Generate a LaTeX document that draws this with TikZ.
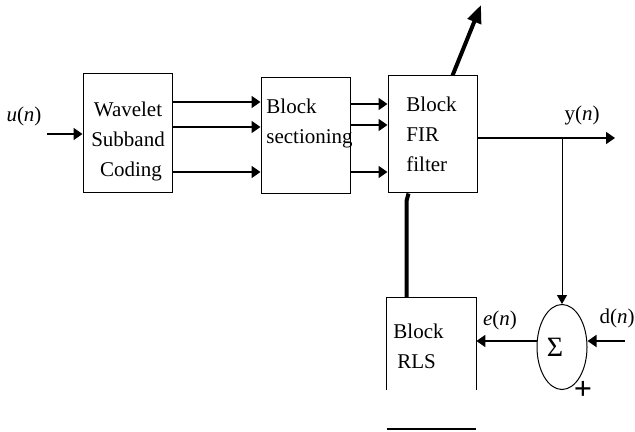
\documentclass[tikz,border=0pt]{standalone}
\usepackage{fontspec}
\setmainfont{Liberation Serif}
\usetikzlibrary{arrows.meta,calc,positioning,shapes.geometric}
\tikzset{
  block/.style={draw,rectangle,line width=0.5pt,minimum width=44.5pt,inner sep=0pt},
  sum/.style={draw,ellipse,line width=0.5pt,minimum width=25pt,minimum height=42.5pt,inner sep=0pt},
  txt/.style={font=\fontsize{10.5}{15}\selectfont,inner sep=0pt,align=left},
  sig/.style={line width=0.9pt,-{Triangle[length=4.5pt,width=6pt]}},
  thin sig/.style={line width=0.5pt,-{Triangle[length=4.5pt,width=5pt]}},
  bus/.style={line width=2pt}
}

\begin{document}
\begin{tikzpicture}[x=0.5pt,y=-0.5pt]
  \useasboundingbox (0,0) rectangle (635,432);
  % blocks
  \node[block,minimum height=59.5pt] (wsc) at (127.5,133.5) {};
  \node[block,minimum height=58pt] (sect) at (305.5,136) {};
  \node[block,minimum height=58.5pt] (fir) at (432.5,134.5) {};
  \node[minimum width=44.5pt,minimum height=46pt,inner sep=0pt] (rls) at (431.5,344) {};
  \node[sum] (sum) at (562,347) {};
  \node[inner sep=0pt,font=\fontsize{14}{14}\selectfont] (sigma) at (555,347) {Σ};
  % block texts
  \node[txt,align=center] (wsctxt) at (128,141) {Wavelet\\Subband\\\hspace*{3pt}Coding};
  \node[txt,anchor=north west] (secttxt) at (266,99) {Block\\sectioning};
  \node[txt,anchor=north west] (firtxt) at (406,97) {Block\\FIR\\filter};
  \node[txt,anchor=north west] (rlstxt) at (393,324) {Block\\\hspace*{2pt}RLS};
  % signal labels
  \node[txt] (ulbl) at (24,116) {\textit{u}(\textit{n})};
  \node[txt] (ylbl) at (582,115) {y(\textit{n})};
  \node[txt] (elbl) at (500,320) {\textit{e}(\textit{n})};
  \node[txt] (dlbl) at (617,318) {d(\textit{n})};
  \node[inner sep=0pt,font=\fontsize{16}{16}\bfseries] (plus) at (583,390) {+};
  % free ends
  \coordinate (uin) at (47,134);
  \coordinate (yout) at (615,138);
  \coordinate (tap) at (562,138);
  \coordinate (din) at (625,341);
  \coordinate (wout) at (481,5);
  % connectors
  \draw[sig] (uin) -- (uin -| wsc.west);
  \foreach \y in {102,127,172}
    \draw[sig] (wsc.east |- 0,\y) -- (sect.west |- 0,\y);
  \foreach \y in {104,125,172}
    \draw[sig] (sect.east |- 0,\y) -- (fir.west |- 0,\y);
  \draw[sig] (fir.east |- yout) -- (yout);
  \draw[thin sig] (tap) -- (sum.north);
  \draw[sig] (din) -- (sum.east |- din);
  \draw[sig] (sum.west |- din) -- (rls.east |- din);
  % RLS box, open at the bottom
  \draw[line width=0.5pt] (rls.south west) -- (rls.north west) -- (rls.north east) -- (rls.south east);
  \draw[line width=0.8pt] (rls.south west |- 0,429) -- (rls.south east |- 0,429);
  % weight bus
  \draw[bus] ($(rls.north west)+(20,0)$) -- ++(0,-97) -- ($(fir.south west)+(21,0)$);
  \draw[bus,-{Triangle[length=9pt,width=7pt]}] ($(fir.north west)+(65,0)$) -- (wout);
\end{tikzpicture}
\end{document}
